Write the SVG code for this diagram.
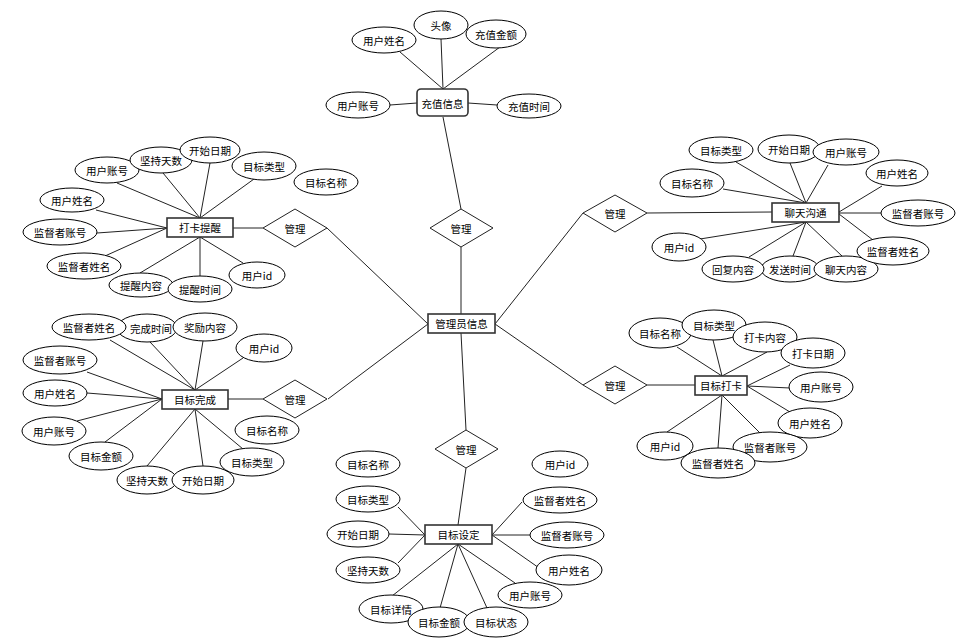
<svg xmlns="http://www.w3.org/2000/svg" width="966" height="640" viewBox="0 0 966 640">
<style>
.c{stroke:#222;stroke-width:1;fill:none}
.e{fill:#fff;stroke:#000;stroke-width:1}
.b{fill:#fff;stroke:#333;stroke-width:1.6}
.d{fill:#fff;stroke:#222;stroke-width:1}
text{font-family:"Noto Sans CJK SC","Liberation Sans",sans-serif;font-size:10.5px;fill:#000;text-anchor:middle;dominant-baseline:central}
</style>
<rect width="966" height="640" fill="#fff"/>
<g id="connectors">
<!-- center -->
<line class="c" x1="443" y1="117" x2="461" y2="209"/>
<line class="c" x1="461" y1="247" x2="461" y2="314"/>
<line class="c" x1="495" y1="324" x2="583" y2="213"/>
<line class="c" x1="495" y1="324" x2="583" y2="385"/>
<line class="c" x1="428" y1="324" x2="327" y2="228"/>
<line class="c" x1="428" y1="324" x2="328" y2="399"/>
<line class="c" x1="461" y1="333" x2="466" y2="430"/>
<!-- top -->
<line class="c" x1="400" y1="52" x2="443" y2="89"/>
<line class="c" x1="441" y1="39" x2="443" y2="89"/>
<line class="c" x1="500" y1="47" x2="443" y2="89"/>
<line class="c" x1="390" y1="105" x2="417" y2="103"/>
<line class="c" x1="468" y1="103" x2="497" y2="105"/>
<!-- 打卡提醒 -->
<line class="c" x1="233" y1="228" x2="263" y2="228"/>
<line class="c" x1="117" y1="183" x2="200" y2="218"/>
<line class="c" x1="163" y1="173" x2="200" y2="218"/>
<line class="c" x1="210" y1="163" x2="200" y2="218"/>
<line class="c" x1="254" y1="179" x2="200" y2="218"/>
<line class="c" x1="96" y1="210" x2="167" y2="228"/>
<line class="c" x1="97" y1="233" x2="167" y2="228"/>
<line class="c" x1="105" y1="256" x2="167" y2="228"/>
<line class="c" x1="200" y1="237" x2="140" y2="273"/>
<line class="c" x1="200" y1="237" x2="200" y2="276"/>
<line class="c" x1="200" y1="237" x2="243" y2="263"/>
<!-- 聊天沟通 -->
<line class="c" x1="647" y1="213" x2="772" y2="212"/>
<line class="c" x1="736" y1="162" x2="806" y2="203"/>
<line class="c" x1="790" y1="163" x2="806" y2="203"/>
<line class="c" x1="828" y1="165" x2="806" y2="203"/>
<line class="c" x1="723" y1="189" x2="806" y2="203"/>
<line class="c" x1="882" y1="186" x2="839" y2="212"/>
<line class="c" x1="839" y1="213" x2="881" y2="213"/>
<line class="c" x1="839" y1="214" x2="873" y2="240"/>
<line class="c" x1="806" y1="222" x2="700" y2="239"/>
<line class="c" x1="806" y1="222" x2="749" y2="257"/>
<line class="c" x1="806" y1="222" x2="793" y2="256"/>
<line class="c" x1="806" y1="222" x2="842" y2="256"/>
<!-- 目标完成 -->
<line class="c" x1="228" y1="399" x2="263" y2="399"/>
<line class="c" x1="110" y1="340" x2="195" y2="390"/>
<line class="c" x1="150" y1="342" x2="195" y2="390"/>
<line class="c" x1="203" y1="341" x2="195" y2="390"/>
<line class="c" x1="243" y1="358" x2="195" y2="390"/>
<line class="c" x1="87" y1="372" x2="162" y2="399"/>
<line class="c" x1="87" y1="393" x2="162" y2="399"/>
<line class="c" x1="77" y1="421" x2="162" y2="399"/>
<line class="c" x1="105" y1="442" x2="162" y2="399"/>
<line class="c" x1="195" y1="409" x2="147" y2="466"/>
<line class="c" x1="195" y1="409" x2="203" y2="466"/>
<line class="c" x1="195" y1="409" x2="243" y2="449"/>
<!-- 目标打卡 -->
<line class="c" x1="647" y1="385" x2="695" y2="385"/>
<line class="c" x1="677" y1="347" x2="722" y2="376"/>
<line class="c" x1="713" y1="340" x2="722" y2="376"/>
<line class="c" x1="767" y1="352" x2="722" y2="376"/>
<line class="c" x1="790" y1="365" x2="747" y2="386"/>
<line class="c" x1="790" y1="388" x2="747" y2="386"/>
<line class="c" x1="790" y1="412" x2="747" y2="386"/>
<line class="c" x1="722" y1="395" x2="667" y2="432"/>
<line class="c" x1="722" y1="395" x2="718" y2="448"/>
<line class="c" x1="722" y1="395" x2="760" y2="433"/>
<!-- 目标设定 -->
<line class="c" x1="466" y1="468" x2="458" y2="525"/>
<line class="c" x1="398" y1="507" x2="425" y2="535"/>
<line class="c" x1="389" y1="534" x2="425" y2="535" stroke-width="2" stroke="#555"/>
<line class="c" x1="398" y1="563" x2="425" y2="535"/>
<line class="c" x1="522" y1="502" x2="492" y2="535"/>
<line class="c" x1="530" y1="535" x2="492" y2="535" stroke-width="2" stroke="#555"/>
<line class="c" x1="542" y1="570" x2="492" y2="535"/>
<line class="c" x1="458" y1="544" x2="392" y2="596"/>
<line class="c" x1="458" y1="544" x2="440" y2="608"/>
<line class="c" x1="458" y1="544" x2="487" y2="608"/>
<line class="c" x1="458" y1="544" x2="515" y2="583"/>
</g>

<g id="n-chongzhi"><rect class="b" x="417" y="89" width="51" height="27" rx="4"/><text x="442.5" y="103">充值信息</text></g>
<g id="n-cz-name"><ellipse class="e" cx="384" cy="40" rx="32" ry="13"/><text x="384" y="40">用户姓名</text></g>
<g id="n-cz-avatar"><ellipse class="e" cx="441" cy="25" rx="27" ry="14"/><text x="441" y="25">头像</text></g>
<g id="n-cz-amount"><ellipse class="e" cx="496" cy="34" rx="30" ry="14"/><text x="496" y="34">充值金额</text></g>
<g id="n-cz-acct"><ellipse class="e" cx="358" cy="105" rx="32" ry="13"/><text x="358" y="105">用户账号</text></g>
<g id="n-cz-time"><ellipse class="e" cx="529" cy="106" rx="32" ry="12"/><text x="529" y="106">充值时间</text></g>

<g id="r-top"><polygon class="d" points="430,228 461,209 493,228 461,247"/><text x="461" y="228">管理</text></g>
<g id="n-admin"><rect class="b" x="428" y="314" width="67" height="19"/><text x="461.5" y="323.5">管理员信息</text></g>

<g id="r-dktx"><polygon class="d" points="263,228 295,209 327,228 295,247"/><text x="295" y="228">管理</text></g>
<g id="n-dktx"><rect class="b" x="167" y="218" width="66" height="19"/><text x="200" y="227.5">打卡提醒</text></g>
<g id="n-dk-acct"><ellipse class="e" cx="107" cy="170" rx="32" ry="13"/><text x="107" y="170">用户账号</text></g>
<g id="n-dk-days"><ellipse class="e" cx="161" cy="160" rx="31" ry="13"/><text x="161" y="160">坚持天数</text></g>
<g id="n-dk-start"><ellipse class="e" cx="210" cy="150" rx="30" ry="13"/><text x="210" y="150">开始日期</text></g>
<g id="n-dk-type"><ellipse class="e" cx="264" cy="166" rx="32" ry="14"/><text x="264" y="166">目标类型</text></g>
<g id="n-dk-goal"><ellipse class="e" cx="326" cy="182" rx="32" ry="13"/><text x="326" y="182">目标名称</text></g>
<g id="n-dk-name"><ellipse class="e" cx="72" cy="200" rx="32" ry="12"/><text x="72" y="200">用户姓名</text></g>
<g id="n-dk-sacct"><ellipse class="e" cx="60" cy="232" rx="37" ry="13"/><text x="60" y="232">监督者账号</text></g>
<g id="n-dk-sname"><ellipse class="e" cx="84" cy="266" rx="37" ry="13"/><text x="84" y="266">监督者姓名</text></g>
<g id="n-dk-content"><ellipse class="e" cx="141" cy="285" rx="32" ry="12"/><text x="141" y="285">提醒内容</text></g>
<g id="n-dk-time"><ellipse class="e" cx="200" cy="289" rx="32" ry="13"/><text x="200" y="289">提醒时间</text></g>
<g id="n-dk-uid"><ellipse class="e" cx="257" cy="275" rx="28" ry="13"/><text x="257" y="275">用户id</text></g>

<g id="r-chat"><polygon class="d" points="583,213 615,195 647,213 615,232"/><text x="615" y="213">管理</text></g>
<g id="n-chat"><rect class="b" x="772" y="203" width="67" height="19"/><text x="805.5" y="212.5">聊天沟通</text></g>
<g id="n-ch-type"><ellipse class="e" cx="721" cy="150" rx="32" ry="13"/><text x="721" y="150">目标类型</text></g>
<g id="n-ch-start"><ellipse class="e" cx="789" cy="149" rx="31" ry="14"/><text x="789" y="149">开始日期</text></g>
<g id="n-ch-acct"><ellipse class="e" cx="846" cy="152" rx="33" ry="13"/><text x="846" y="152">用户账号</text></g>
<g id="n-ch-name"><ellipse class="e" cx="897" cy="173" rx="31" ry="13"/><text x="897" y="173">用户姓名</text></g>
<g id="n-ch-sacct"><ellipse class="e" cx="918" cy="213" rx="37" ry="13"/><text x="918" y="213">监督者账号</text></g>
<g id="n-ch-goal"><ellipse class="e" cx="692" cy="183" rx="32" ry="14"/><text x="692" y="183">目标名称</text></g>
<g id="n-ch-uid"><ellipse class="e" cx="679" cy="247" rx="27" ry="14"/><text x="679" y="247">用户id</text></g>
<g id="n-ch-send"><ellipse class="e" cx="790" cy="269" rx="29" ry="13"/><text x="790" y="269">发送时间</text></g>
<g id="n-ch-reply"><ellipse class="e" cx="733" cy="269" rx="31" ry="13"/><text x="733" y="269">回复内容</text></g>
<g id="n-ch-content"><ellipse class="e" cx="846" cy="269" rx="32" ry="13"/><text x="846" y="269">聊天内容</text></g>
<g id="n-ch-sname"><ellipse class="e" cx="893" cy="251" rx="36" ry="14"/><text x="893" y="251">监督者姓名</text></g>

<g id="r-wc"><polygon class="d" points="263,399 295,380 327,399 295,418"/><text x="295" y="399">管理</text></g>
<g id="n-wc"><rect class="b" x="162" y="390" width="66" height="19"/><text x="195" y="399.5">目标完成</text></g>
<g id="n-wc-time"><ellipse class="e" cx="147" cy="328" rx="30" ry="14"/><text x="151" y="328">完成时间</text></g>
<g id="n-wc-sname"><ellipse class="e" cx="89" cy="327" rx="37" ry="13"/><text x="89" y="327">监督者姓名</text></g>
<g id="n-wc-reward"><ellipse class="e" cx="205" cy="327" rx="32" ry="14"/><text x="205" y="327">奖励内容</text></g>
<g id="n-wc-uid"><ellipse class="e" cx="264" cy="348" rx="28" ry="14"/><text x="264" y="348">用户id</text></g>
<g id="n-wc-sacct"><ellipse class="e" cx="60" cy="360" rx="37" ry="14"/><text x="60" y="360">监督者账号</text></g>
<g id="n-wc-name"><ellipse class="e" cx="55" cy="393" rx="32" ry="13"/><text x="55" y="393">用户姓名</text></g>
<g id="n-wc-acct"><ellipse class="e" cx="54" cy="431" rx="32" ry="14"/><text x="54" y="431">用户账号</text></g>
<g id="n-wc-amount"><ellipse class="e" cx="101" cy="456" rx="32" ry="14"/><text x="101" y="456">目标金额</text></g>
<g id="n-wc-days"><ellipse class="e" cx="147" cy="480" rx="30" ry="14"/><text x="147" y="480">坚持天数</text></g>
<g id="n-wc-start"><ellipse class="e" cx="203" cy="480" rx="31" ry="14"/><text x="203" y="480">开始日期</text></g>
<g id="n-wc-type"><ellipse class="e" cx="252" cy="462" rx="32" ry="14"/><text x="252" y="462">目标类型</text></g>
<g id="n-wc-goal"><ellipse class="e" cx="267" cy="430" rx="32" ry="14"/><text x="267" y="430">目标名称</text></g>

<g id="r-dk"><polygon class="d" points="583,385 615,366 647,385 615,404"/><text x="615" y="385">管理</text></g>
<g id="n-dk"><rect class="b" x="695" y="376" width="52" height="19"/><text x="721" y="385.5">目标打卡</text></g>
<g id="n-mk-goal"><ellipse class="e" cx="660" cy="333" rx="31" ry="15"/><text x="660" y="333">目标名称</text></g>
<g id="n-mk-type"><ellipse class="e" cx="714" cy="325" rx="32" ry="15"/><text x="714" y="325">目标类型</text></g>
<g id="n-mk-content"><ellipse class="e" cx="765" cy="337" rx="32" ry="15"/><text x="765" y="337">打卡内容</text></g>
<g id="n-mk-date"><ellipse class="e" cx="813" cy="353" rx="32" ry="15"/><text x="813" y="353">打卡日期</text></g>
<g id="n-mk-acct"><ellipse class="e" cx="821" cy="387" rx="32" ry="15"/><text x="821" y="387">用户账号</text></g>
<g id="n-mk-name"><ellipse class="e" cx="810" cy="423" rx="32" ry="15"/><text x="810" y="423">用户姓名</text></g>
<g id="n-mk-sacct"><ellipse class="e" cx="770" cy="447" rx="37" ry="15"/><text x="770" y="447">监督者账号</text></g>
<g id="n-mk-sname"><ellipse class="e" cx="718" cy="463" rx="37" ry="15"/><text x="718" y="463">监督者姓名</text></g>
<g id="n-mk-uid"><ellipse class="e" cx="665" cy="446" rx="28" ry="14"/><text x="665" y="446">用户id</text></g>

<g id="r-sd"><polygon class="d" points="435,449 466,430 498,449 466,468"/><text x="466" y="449">管理</text></g>
<g id="n-sd"><rect class="b" x="425" y="525" width="67" height="19"/><text x="458.5" y="534.5">目标设定</text></g>
<g id="n-sd-goal"><ellipse class="e" cx="368" cy="464" rx="32" ry="13"/><text x="368" y="464">目标名称</text></g>
<g id="n-sd-type"><ellipse class="e" cx="368" cy="499" rx="32" ry="13"/><text x="368" y="499">目标类型</text></g>
<g id="n-sd-start"><ellipse class="e" cx="358" cy="534" rx="31" ry="13"/><text x="358" y="534">开始日期</text></g>
<g id="n-sd-days"><ellipse class="e" cx="368" cy="570" rx="32" ry="13"/><text x="368" y="570">坚持天数</text></g>
<g id="n-sd-detail"><ellipse class="e" cx="391" cy="609" rx="32" ry="14"/><text x="391" y="609">目标详情</text></g>
<g id="n-sd-amount"><ellipse class="e" cx="439" cy="622" rx="31" ry="15"/><text x="439" y="622">目标金额</text></g>
<g id="n-sd-state"><ellipse class="e" cx="496" cy="622" rx="32" ry="15"/><text x="496" y="622">目标状态</text></g>
<g id="n-sd-acct"><ellipse class="e" cx="530" cy="595" rx="32" ry="13"/><text x="530" y="595">用户账号</text></g>
<g id="n-sd-name"><ellipse class="e" cx="569" cy="570" rx="33" ry="15"/><text x="569" y="570">用户姓名</text></g>
<g id="n-sd-sacct"><ellipse class="e" cx="567" cy="535" rx="37" ry="13"/><text x="567" y="535">监督者账号</text></g>
<g id="n-sd-sname"><ellipse class="e" cx="560" cy="500" rx="37" ry="13"/><text x="560" y="500">监督者姓名</text></g>
<g id="n-sd-uid"><ellipse class="e" cx="560" cy="464" rx="28" ry="13"/><text x="560" y="464">用户id</text></g>
</svg>
